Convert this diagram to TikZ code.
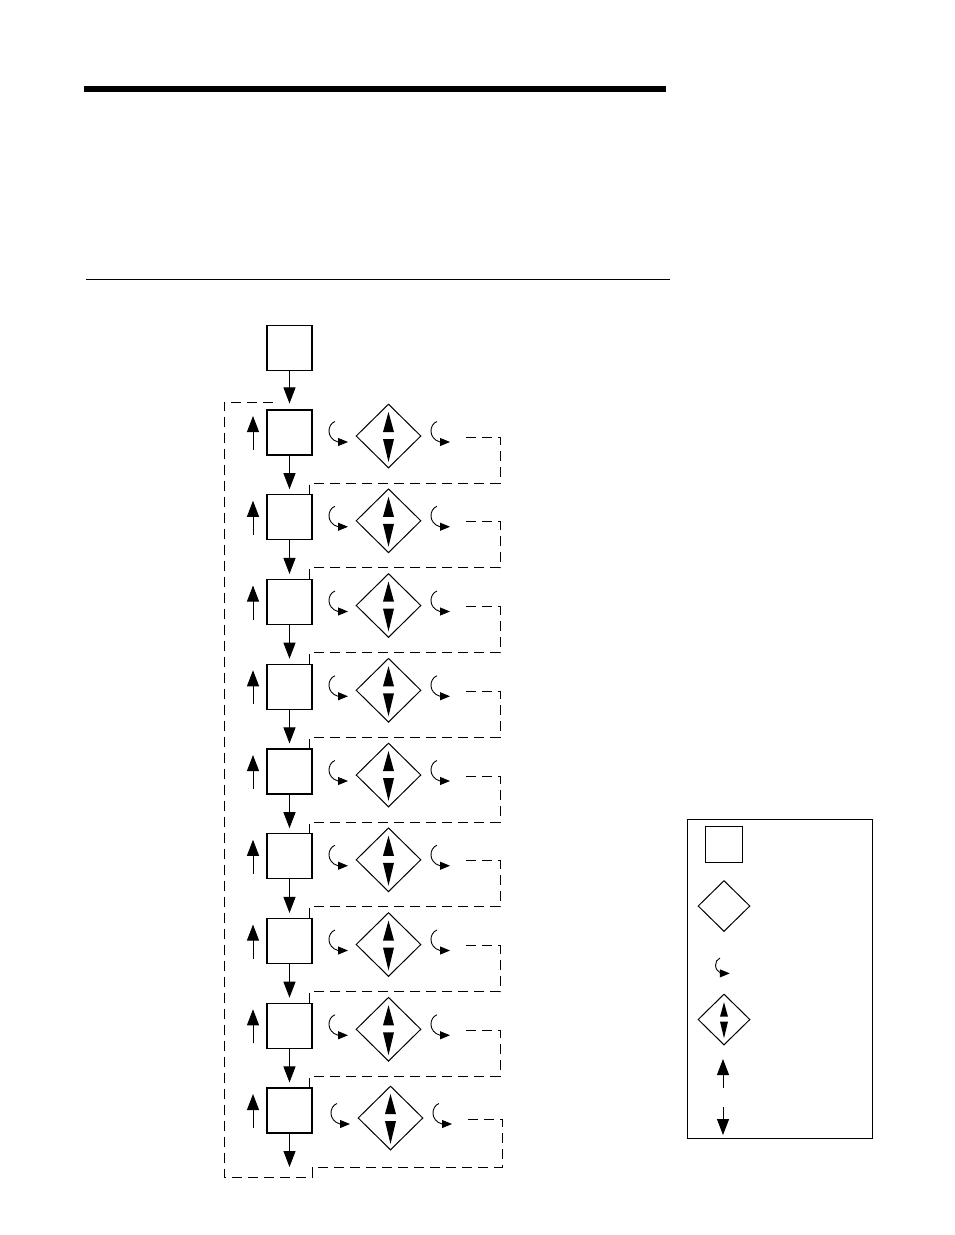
\documentclass[tikz,border=0pt]{standalone}
\usetikzlibrary{arrows.meta,positioning,calc,shapes.geometric}
\tikzset{
  blk/.style   ={draw,line width=1.1pt,minimum width=45pt,minimum height=45pt,inner sep=0pt},
  dmd/.style   ={draw,diamond,line width=1pt,minimum width=65pt,minimum height=64pt,inner sep=0pt},
  ar/.style    ={-{Triangle[length=16pt,width=12pt]},line width=1pt},
  loopline/.style={dash pattern=on 10pt off 6pt,line width=1pt},
  curl/.pic    ={\draw[line width=0.9pt,-{Triangle[length=10pt,width=8pt]}]
                  (0,0) .. controls (-8,3) and (-9,17) .. (3,20.5) -- (13,20.5);},
  dbl/.pic     ={\fill (0,-24) -- (-5.5,-4) -- (5.5,-4) -- cycle;
                  \fill (0,26) -- (-5.5,3) -- (5.5,3) -- cycle;},
}

\begin{document}
\begin{tikzpicture}[x=1pt,y=-1pt]
  \useasboundingbox (0,0) rectangle (954,1235);
  % rules at the top
  \draw[line width=6.5pt] (84,89) -- (666,89);
  \draw[line width=1pt] (86,279) -- (670,279);

  \node[blk] (s) at (289.5,348) {};
  \foreach \i in {0,...,8}{
    \pgfmathsetmacro\cy{432.5+84.75*\i}
    \pgfmathsetmacro\dx{\i==8 ? 2 : 0}
    \pgfmathsetmacro\dy{\i==8 ? 4 : 0}
    \node[blk] (b\i) at (289.5,\cy) {};
    \draw[ar] (253,\cy+17.5) -- ++(0,-34);
    \node[dmd] (d\i) at (388.5+\dx,\cy+3.5+\dy) {};
    \pic at (d\i) {dbl};
    \pic at (335+\dx,\cy-11+\dy) {curl};
    \pic at (437+\dx,\cy-11+\dy) {curl};
    \coordinate (r\i) at (466+\dx,\cy+4.5+\dy);
  }
  \coordinate (ret) at (278,402);
  \coordinate (end) at (289.5,1167);

  \draw[ar,shorten >=6pt] (s) -- (b0);
  \foreach \i [count=\j] in {0,...,7}{
    \draw[ar,shorten >=5pt] (b\i) -- (b\j);
    \draw[loopline] (r\i) -- ++(34,0) |- ([xshift=-3pt,yshift=11pt]b\j.north east)
      -- ([xshift=-3pt]b\j.north east);
  }
  \draw[ar] (b8) -- (end);
  \draw[loopline] (r8) -- ++(34,0) |- ++(-190,48) -- ++(0,10)
    -| ([xshift=-54pt]ret) -- (ret);

  % legend
  \node[draw,line width=1pt,minimum width=185pt,minimum height=319pt,inner sep=0pt] (leg) at (779.5,978.5) {};
  \node[draw,line width=0.9pt,minimum width=37pt,minimum height=36pt,inner sep=0pt] (lsq) at (723.5,844) {};
  \node[dmd,minimum width=52pt,minimum height=51pt] (ldm) at (724,906) {};
  \pic[scale=0.75] at (720,958) {curl};
  \node[dmd,minimum width=52pt,minimum height=51pt] (ldd) at (724,1019.5) {};
  \pic[scale=0.72] at (ldd) {dbl};
  \coordinate (lu) at (723,1088);
  \coordinate (ld) at (723,1107);
  \draw[ar,line width=0.9pt] (lu) -- ++(0,-29);
  \draw[ar,line width=0.9pt] (ld) -- ++(0,28);
\end{tikzpicture}
\end{document}
